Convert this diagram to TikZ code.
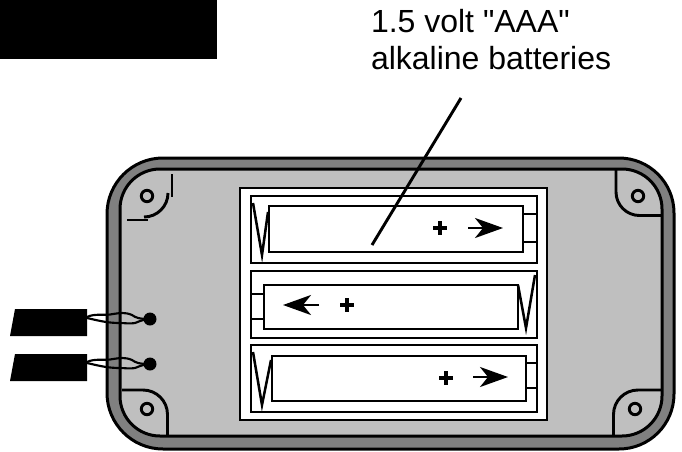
\documentclass[tikz,border=0pt]{standalone}
\usepackage{fontspec}
\setmainfont[Ligatures=TeXOff]{Liberation Sans}
\usetikzlibrary{arrows.meta}
\tikzset{
 px/.style={x=0.75pt,y=-0.75pt},
 thick line/.style={draw=black,line width=2.25pt},
 med line/.style={draw=black,line width=2.2pt},
 plus line/.style={draw=black,line width=2.3pt},
 thin line/.style={draw=black,line width=1.9pt},
 wire line/.style={draw=black,line width=1.6pt},
 pointer/.style={-{Stealth[length=21pt,width=15pt,inset=6pt]}},
 label text/.style={font=\fontsize{24pt}{29pt}\selectfont,anchor=base west,inner sep=0,outer sep=0},
}
\newcommand{\tagwires}[1]{%
 \begin{scope}[yshift=#1]
 \fill (15,309) -- (87,309) -- (87,336) -- (10,336) -- cycle;
 \draw[wire line] (87,317) .. controls (95,313) and (105,316) .. (113,314) .. controls (120,313) and (125,312) .. (132,315) .. controls (136,318) and (140,319) .. (150,319);
 \draw[wire line] (87,318) .. controls (100,321) and (108,323) .. (120,323) .. controls (125,323) and (130,324) .. (135,323) .. controls (140,321) and (145,319) .. (150,319);
 \fill (150,319) circle (6.5);
 \end{scope}}
\begin{document}
\begin{tikzpicture}[px]
\useasboundingbox (0,0) rectangle (682,451);
\fill (0,0) rectangle (217,59);
\node[label text] (l1) at (371,32.5) {1.5 volt "AAA"};
\node[label text] (l2) at (371,69.5) {alkaline batteries};
% case
\draw[thick line,fill=black!50] (107,214) arc[start angle=180,end angle=270,radius=56] -- (619,158) arc[start angle=270,end angle=360,radius=55] -- (674,394) arc[start angle=0,end angle=90,radius=55] -- (163,449) arc[start angle=90,end angle=180,radius=56] -- cycle;
\draw[thick line,fill=black!25] (120,209) arc[start angle=180,end angle=270,radius=40] -- (622,169) arc[start angle=270,end angle=360,radius=40] -- (662,396) arc[start angle=0,end angle=90,radius=40] -- (160,436) arc[start angle=90,end angle=180,radius=40] -- cycle;
% frame
\draw[med line,fill=white] (240,188) rectangle (547,420);
\draw[med line] (251,196) rectangle (537,263);
\draw[med line] (251,271) rectangle (537,338);
\draw[med line] (251,345) rectangle (537,412);
% batteries
\draw[med line] (269,206) rectangle (523,252);
\draw[med line] (523,214) -- (537,214) (523,242) -- (537,242);
\draw[med line] (264,285) rectangle (518,329);
\draw[med line] (251,294) -- (264,294) (251,319) -- (264,319);
\draw[med line] (272,356) rectangle (526,401);
\draw[med line] (526,363) -- (537,363) (526,388) -- (537,388);
% springs
\draw[thin line] (253,203) -- (262,255) -- (268,212);
\draw[thin line] (535,275) -- (526,328) -- (518,285);
\draw[thin line] (253,352) -- (262,405) -- (271,360);
% symbols
\draw[thin line,pointer] (468,228) -- (503,228);
\draw[thin line,pointer] (319,305) -- (283,305);
\draw[thin line,pointer] (473,377) -- (508,377);
\foreach \x/\y in {440/228,347/305,446/378}{
 \draw[plus line] (\x-6.8,\y) -- (\x+6.8,\y) (\x,\y-6.8) -- (\x,\y+6.8);
}
% leader
\coordinate (la) at (461,98);
\coordinate (lb) at (372,245);
\draw[med line] (la) -- (lb);
% corners
\draw[med line] (147,196) circle (5.7);
\draw[med line] (638,196) circle (5.7);
\draw[med line] (635,409) circle (5.7);
\draw[med line] (147,409) circle (5.7);
\draw[med line] (172,174) -- (172,197);
\draw[med line] (168,193) arc[start angle=0,end angle=90,radius=24];
\draw[med line] (127,220) -- (148,220);
\draw[med line] (616,169) -- (616,192) arc[start angle=180,end angle=90,radius=23.5] -- (662,215.5);
\draw[med line] (662,390) -- (638,390) arc[start angle=270,end angle=180,radius=24.5] -- (613.5,436);
\draw[med line] (122,390) -- (143,390) arc[start angle=270,end angle=360,radius=24.5] -- (167.5,436);
% tags
\tagwires{0}
\tagwires{-45*0.75pt}
\end{tikzpicture}
\end{document}
